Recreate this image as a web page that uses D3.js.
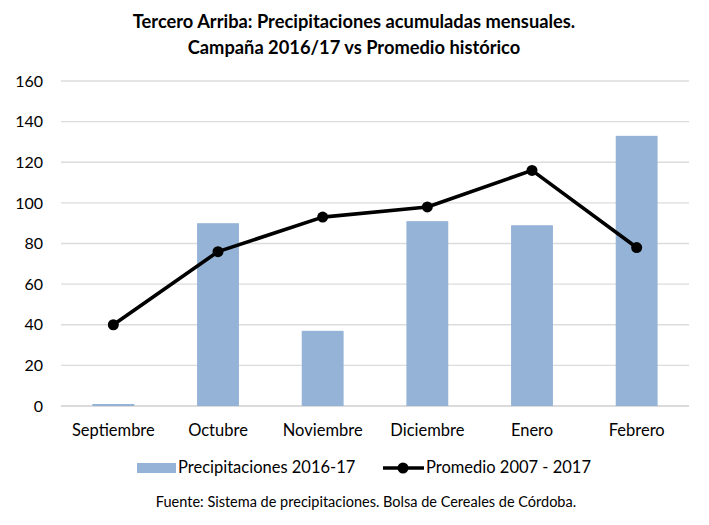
<!DOCTYPE html>
<html><head><meta charset="utf-8">
<script src="https://cdn.jsdelivr.net/npm/d3@7"></script>
<style>body{margin:0;background:#fff;}svg{display:block;font-family:Lato,"Open Sans",sans-serif;}</style>
</head><body><svg id="c" width="709" height="525"></svg>
<script>
const categories = ["Septiembre","Octubre","Noviembre","Diciembre","Enero","Febrero"];
const precip = [1, 90, 37, 91, 89, 133];
const promedio = [40, 76, 93, 98, 116, 78];
const yTicks = [0,20,40,60,80,100,120,140,160];

const svg = d3.select("#c");
const m = {l:61, r:689, t:81, b:406};
const x = d3.scaleBand().domain(categories).range([m.l, m.r]).paddingInner(0.6).paddingOuter(0.3);
const xc = d => x(d) + x.bandwidth()/2;
const y = d3.scaleLinear().domain([0,160]).range([m.b, m.t]);
const FF = "Lato,'Open Sans',sans-serif";

// title
const t = svg.append("text").attr("text-anchor","middle").attr("font-weight","bold").attr("font-size",18.3).attr("fill","#000");
t.append("tspan").attr("x",354).attr("y",28).text("Tercero Arriba: Precipitaciones acumuladas mensuales.");
t.append("tspan").attr("x",354).attr("y",54).text("Campaña 2016/17 vs Promedio histórico");

// grid
svg.append("g").selectAll("line").data(yTicks).join("line")
  .attr("x1",m.l).attr("x2",m.r).attr("y1",d=>y(d)).attr("y2",d=>y(d))
  .attr("stroke",d=>d===0?"#cfcfcf":"#dcdcdc").attr("stroke-width",1.3);

// y axis
const ya = svg.append("g").attr("transform",`translate(${m.l},0)`)
  .call(d3.axisLeft(y).tickValues(yTicks).tickSize(0).tickPadding(18));
ya.select(".domain").remove();
ya.selectAll("text").attr("font-size",16).attr("fill","#000").attr("font-family",FF);

// x axis
const xa = svg.append("g").attr("transform",`translate(0,${m.b})`)
  .call(d3.axisBottom(x).tickSize(0).tickPadding(18));
xa.select(".domain").remove();
xa.selectAll("text").attr("font-size",16.5).attr("fill","#000").attr("font-family",FF);

// bars
svg.append("g").selectAll("rect").data(precip).join("rect")
  .attr("x",(d,i)=>x(categories[i])).attr("width",x.bandwidth())
  .attr("y",d=>y(d)).attr("height",d=>y(0)-y(d)).attr("fill","#94b3d7");

// line
const line = d3.line().x((d,i)=>xc(categories[i])).y(d=>y(d));
svg.append("path").datum(promedio).attr("d",line).attr("fill","none").attr("stroke","#000").attr("stroke-width",3.6).attr("stroke-linejoin","round");
svg.append("g").selectAll("circle").data(promedio).join("circle")
  .attr("cx",(d,i)=>xc(categories[i])).attr("cy",d=>y(d)).attr("r",5.5).attr("fill","#000");

// legend
const lg = svg.append("g").attr("font-size",16.5).attr("fill","#000");
lg.append("rect").attr("x",137).attr("y",463).attr("width",39).attr("height",10).attr("fill","#94b3d7");
lg.append("text").attr("x",178).attr("y",473).text("Precipitaciones 2016-17");
lg.append("line").attr("x1",383).attr("x2",424).attr("y1",468).attr("y2",468).attr("stroke","#000").attr("stroke-width",3.6);
lg.append("circle").attr("cx",403).attr("cy",468).attr("r",5.5).attr("fill","#000");
lg.append("text").attr("x",426).attr("y",473).text("Promedio 2007 - 2017");

svg.append("text").attr("x",366).attr("y",507).attr("text-anchor","middle").attr("font-size",14.5).attr("fill","#000")
  .text("Fuente: Sistema de precipitaciones. Bolsa de Cereales de Córdoba.");
</script></body></html>
